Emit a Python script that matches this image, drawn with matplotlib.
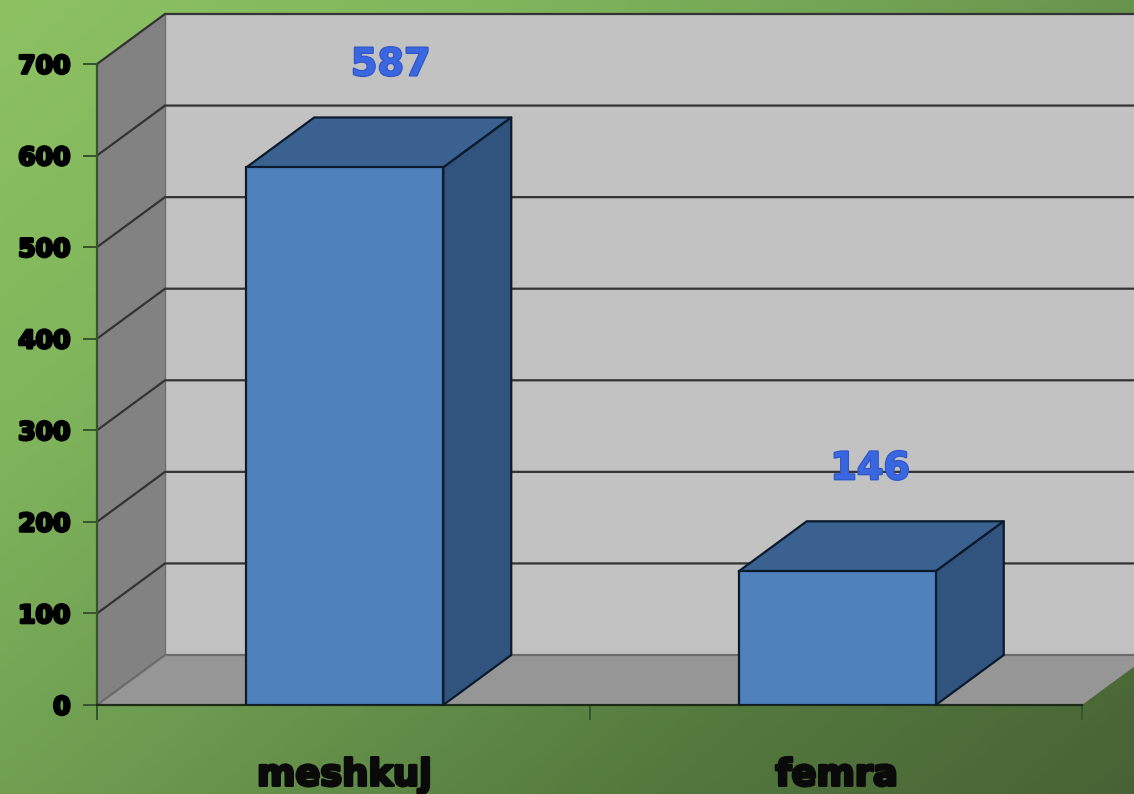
import numpy as np
import matplotlib
matplotlib.use("Agg")
import matplotlib.pyplot as plt
from matplotlib.colors import LinearSegmentedColormap
from matplotlib.patches import Polygon
import matplotlib.patheffects as pe

categories = ["meshkuj", "femra"]
values = [587, 146]
y_ticks = [0, 100, 200, 300, 400, 500, 600, 700]
label_shift_px = [46, 33]

W, H = 1134, 794
fig = plt.figure(figsize=(W / 100, H / 100), dpi=100)

# diagonal gradient background
bg = fig.add_axes([0, 0, 1, 1], zorder=0)
bg.set_axis_off()
xx, yy = np.meshgrid(np.linspace(0, 1, 300), np.linspace(0, 1, 300))
cmap = LinearSegmentedColormap.from_list(
    "g", ["#8dc162", "#80b55c", "#6c9a50", "#547a3e", "#486235"])
bg.imshow(0.55 * xx + 0.45 * yy, cmap=cmap, extent=[0, 1, 1, 0], aspect="auto", vmin=0, vmax=1)
bg.set_xlim(0, 1)
bg.set_ylim(1, 0)

# main axes: x 97..1082 px, y 705..64 px
L, R, B, T = 97, 1082, 705, 64
ax = fig.add_axes([L / W, 1 - B / H, (R - L) / W, (B - T) / H], zorder=1)
ax.set_xlim(0, len(categories))
ax.set_ylim(0, 700)
ax.patch.set_alpha(0)
for s in ["top", "right"]:
    ax.spines[s].set_visible(False)
ax.spines["left"].set_color("#35552a")
ax.spines["left"].set_linewidth(1.6)
ax.spines["bottom"].set_color("#1c2a16")
ax.spines["bottom"].set_linewidth(1.6)

ux = len(categories) / (R - L)   # data per pixel
uy = 700 / (B - T)
dx, dy = 68 * ux, 50 * uy
xmax = len(categories)


def poly(pts, fc, ec="none", lw=0, z=1):
    p = Polygon(pts, closed=True, fc=fc, ec=ec, lw=lw, zorder=z, clip_on=False, joinstyle="round")
    ax.add_patch(p)


# walls and floor
top_wall = 700
poly([(0, 0), (dx, dy), (dx, top_wall + dy), (0, top_wall)], "#828282", z=1)
poly([(dx, dy), (xmax + dx + 0.2, dy), (xmax + dx + 0.2, top_wall + dy), (dx, top_wall + dy)], "#c2c2c2", z=1)
poly([(0, 0), (xmax, 0), (xmax + dx, dy), (dx, dy)], "#969696", z=1)
ax.plot([dx, dx], [dy, 700 + dy], color="#6f6f6f", lw=1.0, clip_on=False, zorder=2)

# gridlines
for v in y_ticks:
    col = "#333333" if v else "#6b6b6b"
    ax.plot([0, dx, xmax + dx + 0.2], [v, v + dy, v + dy], color=col, lw=1.6, clip_on=False, zorder=2,
            solid_joinstyle="miter")

# bars
bar_w = 0.4
bar_shift = 1.5 * ux
edge = "#0b1a2c"
for i, v in enumerate(values):
    c = i + 0.5 + bar_shift
    x0, x1 = c - bar_w / 2, c + bar_w / 2
    ax.bar([c], [v], width=bar_w, color="#4f81bd", edgecolor=edge, linewidth=1.6, zorder=5)
    poly([(x0, v), (x1, v), (x1 + dx, v + dy), (x0 + dx, v + dy)], "#3a6190", edge, 1.6, 4)
    poly([(x1, 0), (x1 + dx, dy), (x1 + dx, v + dy), (x1, v)], "#31547e", edge, 1.6, 4)
    t = ax.text(c + label_shift_px[i] * ux, v + 102 * uy, str(v), ha="center", va="center",
                fontsize=27.5, fontweight="bold", color="#3a66e0", zorder=7, clip_on=False,
                family="DejaVu Sans")
    t.set_path_effects([pe.withStroke(linewidth=1.6, foreground="#2f55c8")])

# ticks
ax.set_xticks([0, 1, 2])
ax.set_xticklabels([])
ax.tick_params(axis="x", length=11, width=1.4, color="#35552a", direction="out")
ax.set_yticks(y_ticks)
ax.set_yticklabels([str(v) for v in y_ticks])
ax.tick_params(axis="y", length=10, width=1.4, color="#35552a", pad=9,
               labelsize=18, labelcolor="black")
for lab in ax.get_yticklabels():
    lab.set_fontweight("bold")
    lab.set_path_effects([pe.withStroke(linewidth=2.0, foreground="black")])

# category labels
for i, name in enumerate(categories):
    t = ax.text(i + 0.5 + 1 * ux, -70 * uy, name, ha="center", va="center", fontsize=26.5,
                fontweight="bold", color="#0a0a0a", clip_on=False, zorder=7)
    t.set_path_effects([pe.withStroke(linewidth=2.2, foreground="#0a0a0a")])

fig.savefig("out.png", dpi=100)
